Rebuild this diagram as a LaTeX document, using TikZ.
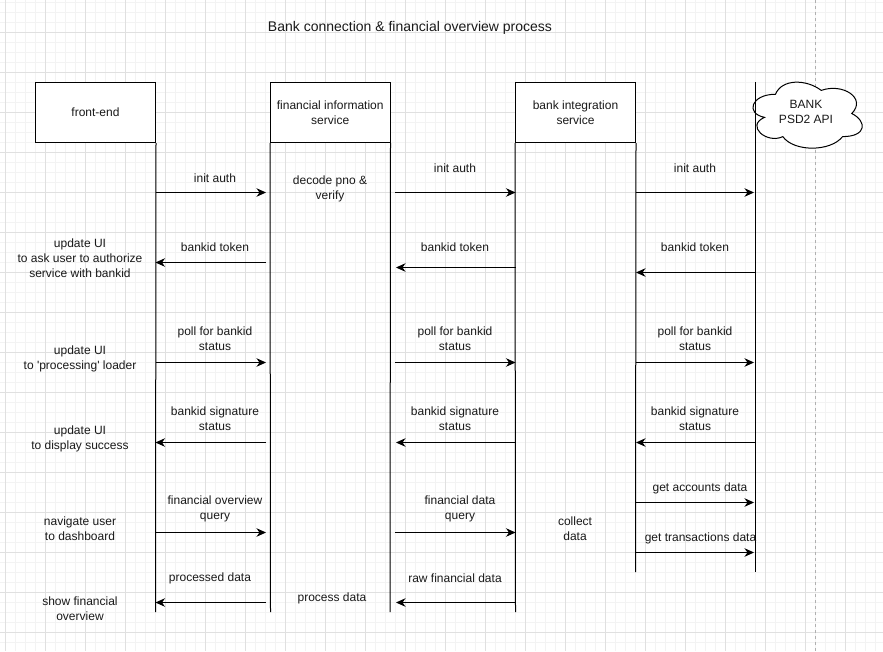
\documentclass[tikz,border=0pt]{standalone}
\usepackage{fontspec}
\newfontfamily\lsans{Liberation Sans}
\usetikzlibrary{arrows.meta}
\definecolor{gmaj}{HTML}{E0E0E0}
\definecolor{gmin}{HTML}{F3F3F3}
\definecolor{dashc}{HTML}{B0B0B0}
\begin{document}
\begin{tikzpicture}[x=1pt,y=-1pt,
  txt/.style={font=\lsans\fontsize{12}{15}\selectfont, align=center, inner sep=0pt, text=black!90},
  lbl/.style={txt, yshift=-1pt},
  box/.style={txt, draw, line width=1pt, fill=white, minimum width=120pt, minimum height=60pt},
  life/.style={line width=1pt},
  msg/.style={line width=1pt, -{Stealth[length=9.5pt,width=8.5pt,inset=3pt]}},
]
\fill[white] (0,0) rectangle (883,651);
\useasboundingbox (0,0) rectangle (883,651);
% grid
\foreach \x in {5.5,15.5,...,885} \draw[gmin, line width=1pt] (\x,0) -- (\x,651);
\foreach \y in {2.5,12.5,...,655} \draw[gmin, line width=1pt] (0,\y) -- (883,\y);
\foreach \x in {5.5,45.5,...,885} \draw[gmaj, line width=1pt] (\x,0) -- (\x,651);
\foreach \y in {-7.5,32.5,...,655} \draw[gmaj, line width=1pt] (0,\y) -- (883,\y);
\draw[dashc, line width=1pt, dash pattern=on 3pt off 3pt] (815.5,0) -- (815.5,651);

% title
\node[lbl, font=\lsans\fontsize{14}{17}\selectfont] (title) at (410,27) {Bank connection \& financial overview process};

% participants
\node[box] (fe) at (95.5,112.5) {front-end};
\node[box, minimum width=119.5pt] (fis) at (330.25,112.5) {financial information\\service};
\node[box] (bis) at (575.5,112.5) {bank integration\\service};
\begin{scope}[shift={(745,75)}, x=122pt, y=-77pt]
\draw[line width=1pt, fill=white] (0.25,0.25) .. controls (0.05,0.25) and (0,0.5) .. (0.16,0.55)
  .. controls (0,0.66) and (0.18,0.9) .. (0.31,0.8)
  .. controls (0.4,1) and (0.7,1) .. (0.8,0.8)
  .. controls (1,0.8) and (1,0.6) .. (0.875,0.5)
  .. controls (1,0.3) and (0.8,0.1) .. (0.625,0.2)
  .. controls (0.5,0.05) and (0.3,0.05) .. (0.25,0.25) -- cycle;
\end{scope}
\node[txt] (api) at (806,112) {BANK\\PSD2 API};

% lifeline x positions
\coordinate (L1) at (155.5,0);
\coordinate (L2) at (270.5,0);
\coordinate (L2a) at (266,0);
\coordinate (L3) at (390,0);
\coordinate (L3a) at (395,0);
\coordinate (L3b) at (396,0);
\coordinate (L4) at (515.5,0);
\coordinate (L5) at (635.5,0);
\coordinate (L6) at (755,0);
\coordinate (L6a) at (754,0);
\coordinate (L5a) at (636,0);
% lifeline ends
\coordinate (bot) at (0,612);
\coordinate (botr) at (0,572);
\coordinate (apitop) at (0,82);

\draw[life] (fe.south east) -- (L1 |- bot);
\draw[life] (fis.south west) -- (L2 |- bot);
\draw[life] (fis.south east) -- (L3 |- bot);
\draw[life] (bis.south west) -- (L4 |- bot);
\draw[life] (bis.south east) -- (L5 |- botr);
\draw[life] (L6 |- apitop) -- (L6 |- botr);

% rows
\coordinate (r1) at (0,192.5);
\coordinate (r2a) at (0,262.5);
\coordinate (r2b) at (0,267.5);
\coordinate (r2c) at (0,272.5);
\coordinate (r3) at (0,362.5);
\coordinate (r4) at (0,442.5);
\coordinate (r5a) at (0,502.5);
\coordinate (r5) at (0,532.5);
\coordinate (r5b) at (0,552.5);
\coordinate (r6) at (0,602.5);

% row 1
\draw[msg] (L1 |- r1) -- (L2a |- r1);
\draw[msg] (L3a |- r1) -- (L4 |- r1);
\draw[msg] (L5 |- r1) -- (L6a |- r1);
\node[lbl] (t1a) at (215,177) {init auth};
\node[lbl] (t1b) at (455,167) {init auth};
\node[lbl] (t1c) at (695,167) {init auth};
\node[lbl] (dec) at (330,187.5) {decode pno \&\\verify};

% row 2
\draw[msg] (L2a |- r2a) -- (L1 |- r2a);
\draw[msg] (L4 |- r2b) -- (L3b |- r2b);
\draw[msg] (L6 |- r2c) -- (L5a |- r2c);
\node[lbl] (t2a) at (215,246) {bankid token};
\node[lbl] (t2b) at (455,246) {bankid token};
\node[lbl] (t2c) at (695,246) {bankid token};
\node[lbl] (u1) at (80,257) {update UI\\to ask user to authorize\\service with bankid};

% row 3
\draw[msg] (L1 |- r3) -- (L2a |- r3);
\draw[msg] (L3a |- r3) -- (L4 |- r3);
\draw[msg] (L5 |- r3) -- (L6a |- r3);
\node[lbl] (t3a) at (215,337.5) {poll for bankid\\status};
\node[lbl] (t3b) at (455,337.5) {poll for bankid\\status};
\node[lbl] (t3c) at (695,337.5) {poll for bankid\\status};
\node[lbl] (u2) at (80,357.5) {update UI\\to 'processing' loader};

% row 4
\draw[msg] (L2a |- r4) -- (L1 |- r4);
\draw[msg] (L4 |- r4) -- (L3b |- r4);
\draw[msg] (L6 |- r4) -- (L5a |- r4);
\node[lbl] (t4a) at (215,417.5) {bankid signature\\status};
\node[lbl] (t4b) at (455,417.5) {bankid signature\\status};
\node[lbl] (t4c) at (695,417.5) {bankid signature\\status};
\node[lbl] (u3) at (80,437.5) {update UI\\to display success};

% row 5
\draw[msg] (L1 |- r5) -- (L2a |- r5);
\draw[msg] (L3a |- r5) -- (L4 |- r5);
\draw[msg] (L5 |- r5a) -- (L6a |- r5a);
\draw[msg] (L5 |- r5b) -- (L6a |- r5b);
\node[lbl] (t5a) at (215,507.5) {financial overview\\query};
\node[lbl] (t5b) at (460,507.5) {financial data\\query};
\node[lbl] (u4) at (80,527.5) {navigate user\\to dashboard};
\node[lbl] (col) at (575,527.5) {collect\\data};
\node[lbl] (t5c) at (700,487) {get accounts data};
\node[lbl] (t5d) at (700.5,537) {get transactions data};

% row 6
\draw[msg] (L2a |- r6) -- (L1 |- r6);
\draw[msg] (L4 |- r6) -- (L3b |- r6);
\node[lbl] (t6a) at (210,577) {processed data};
\node[lbl] (t6b) at (455,577) {raw financial data};
\node[lbl] (proc) at (332,597) {process data};
\node[lbl] (u5) at (80,607.5) {show financial\\overview};
\end{tikzpicture}
\end{document}
